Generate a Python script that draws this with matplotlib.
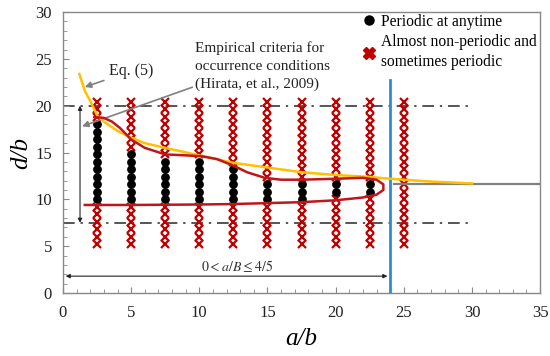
import matplotlib
matplotlib.use("Agg")
import matplotlib.pyplot as plt
from matplotlib.lines import Line2D

plt.rcParams['font.family'] = ['Liberation Serif', 'DejaVu Serif']
plt.rcParams['mathtext.fontset'] = 'stix'

# marker grid: a/b columns and d/b levels
a_cols = [2.5, 5, 7.5, 10, 12.5, 15, 17.5, 20, 22.5, 25]
d_levels = [5.2, 6.0, 6.8, 7.6, 8.4, 9.2, 10.0, 10.8, 11.6, 12.4,
            13.2, 14.0, 14.8, 15.6, 16.4, 17.2, 18.0, 18.8, 19.6, 20.4]
# range of d/b that is periodic at anytime, per column (None = none)
dot_lo = [10.0, 10.0, 10.0, 10.0, 10.0, 10.0, 10.0, 10.8, 10.8, None]
dot_hi = [18.0, 14.8, 14.0, 14.0, 13.2, 11.6, 11.6, 11.6, 11.6, None]

# Eq. (5) curve
eq5_x = [1.2, 1.6, 2.0, 2.5, 3.0, 4.0, 5.0, 6.0, 7.5, 10.0, 12.5, 15.0,
         17.5, 20.0, 22.5, 24.0, 27.0, 30.0]
eq5_y = [23.4, 21.6, 20.5, 19.0, 18.3, 17.3, 16.6, 16.0, 15.5, 14.7, 13.9,
         13.4, 12.9, 12.6, 12.4, 12.2, 11.9, 11.7]

# empirical criteria (Hirata et al., 2009), closed on the right
emp_x = [2.3, 3.0, 3.6, 4.2, 5.0, 6.0, 7.5, 9.0, 10.2, 11.3, 12.5, 13.5,
         14.8, 16.0, 17.5, 20.0, 22.0, 23.0, 23.5, 23.5, 23.0, 22.0, 20.0,
         17.5, 15.0, 12.5, 10.0, 5.0, 1.6]
emp_y = [18.8, 18.7, 18.3, 17.6, 16.4, 15.5, 14.8, 14.7, 14.6, 14.3, 13.6,
         12.9, 12.3, 12.1, 12.1, 12.2, 12.3, 12.1, 11.6, 11.0, 10.5, 10.2,
         9.9, 9.7, 9.6, 9.5, 9.45, 9.4, 9.4]

d_upper = 20.0
d_lower = 7.5
a_limit = 24.0
d_asym = 11.6

dot_x, dot_y, crs_x, crs_y = [], [], [], []
for a, lo, hi in zip(a_cols, dot_lo, dot_hi):
    for d in d_levels:
        if lo is not None and lo - 1e-6 <= d <= hi + 1e-6:
            dot_x.append(a)
            dot_y.append(d)
        else:
            crs_x.append(a)
            crs_y.append(d)

fig = plt.figure(figsize=(5.5, 3.56), dpi=100)
ax = fig.add_axes([0.1145, 0.177, 0.8675, 0.789])

red = '#c00000'
ax.plot([0, 30], [d_upper, d_upper], color='#555555', lw=1.4,
        ls=(0, (6, 3, 1.2, 3)), zorder=1)
ax.plot([0, 30], [d_lower, d_lower], color='#555555', lw=1.4,
        ls=(0, (6, 3, 1.2, 3)), zorder=1)

ax.plot(crs_x, crs_y, ls='none', marker='x', ms=6, mew=1.6, color=red, zorder=2)
ax.plot(dot_x, dot_y, ls='none', marker='o', ms=5.3, color='black', zorder=3)

ax.plot([a_limit, a_limit], [0, 22.8], color='#2e8bd6', lw=2, zorder=4)
ax.plot([24.3, 35], [d_asym, d_asym], color='#808080', lw=1.6, zorder=4)
ax.plot(eq5_x, eq5_y, color='#ffc000', lw=1.8, zorder=5)
ax.plot(emp_x, emp_y, color='#c0161b', lw=1.8, zorder=6)

# arrows and annotations
ax.annotate('', xy=(1.25, d_upper), xytext=(1.25, d_lower),
            arrowprops=dict(arrowstyle='<|-|>', color='#222222', lw=0.8,
                            mutation_scale=6, shrinkA=0, shrinkB=0))
ax.annotate('', xy=(0.2, 1.8), xytext=(a_limit - 0.2, 1.8),
            arrowprops=dict(arrowstyle='<|-|>', color='#222222', lw=0.8,
                            mutation_scale=6, shrinkA=0, shrinkB=0))
ax.text(12.8, 2.9, r'$0 < \mathit{a/B} \leq 4/5$', ha='center', va='center',
        fontsize=10, color='#333333')

ax.annotate('Eq. (5)', xy=(1.6, 22.0), xytext=(3.4, 23.7),
            fontsize=11.5, va='center', ha='left', color='#222222',
            arrowprops=dict(arrowstyle='-|>', color='#808080', lw=1.2,
                            mutation_scale=9, shrinkA=2, shrinkB=0))
ax.annotate('Empirical criteria for\noccurrence conditions\n(Hirata, et al., 2009)',
            xy=(1.4, 17.8), xytext=(9.7, 24.2), fontsize=11, va='center',
            ha='left', color='#222222', linespacing=1.45,
            arrowprops=dict(arrowstyle='-|>', color='#808080', lw=1.2,
                            mutation_scale=9, shrinkA=0, shrinkB=0,
                            relpos=(-0.02, 0.08)))

handles = [
    Line2D([], [], ls='none', marker='o', ms=6.5, color='black'),
    Line2D([], [], ls='none', marker='X', ms=8, color=red, mec=red),
]
leg = ax.legend(handles, ['Periodic at anytime',
                          'Almost non-periodic and\nsometimes periodic'],
                loc='upper left', bbox_to_anchor=(0.625, 1.0), frameon=False,
                fontsize=11.2, handlelength=0.8, handletextpad=0.4,
                borderaxespad=0, borderpad=0.1, labelspacing=0.3)
for t in leg.get_texts():
    t.set_linespacing(1.3)

ax.set_xlim(0, 35)
ax.set_ylim(0, 30)
ax.set_xticks(range(0, 36, 5))
ax.set_yticks(range(0, 31, 5))
ax.set_xticks(range(0, 36), minor=True)
ax.set_yticks(range(0, 31), minor=True)
ax.tick_params(which='both', direction='in', labelsize=12,
               labelcolor='#222222', color='#888888')
ax.tick_params(which='major', length=4, pad=9)
ax.tick_params(which='minor', length=3)
ax.tick_params(axis='y', which='major', pad=8)
for s in ax.spines.values():
    s.set_color('#888888')
    s.set_linewidth(1.0)

ax.set_xlabel('a/b', fontsize=18, style='italic', labelpad=5)
ax.set_ylabel('d/b', fontsize=18, style='italic', labelpad=2)

fig.savefig('out.png', dpi=100)
